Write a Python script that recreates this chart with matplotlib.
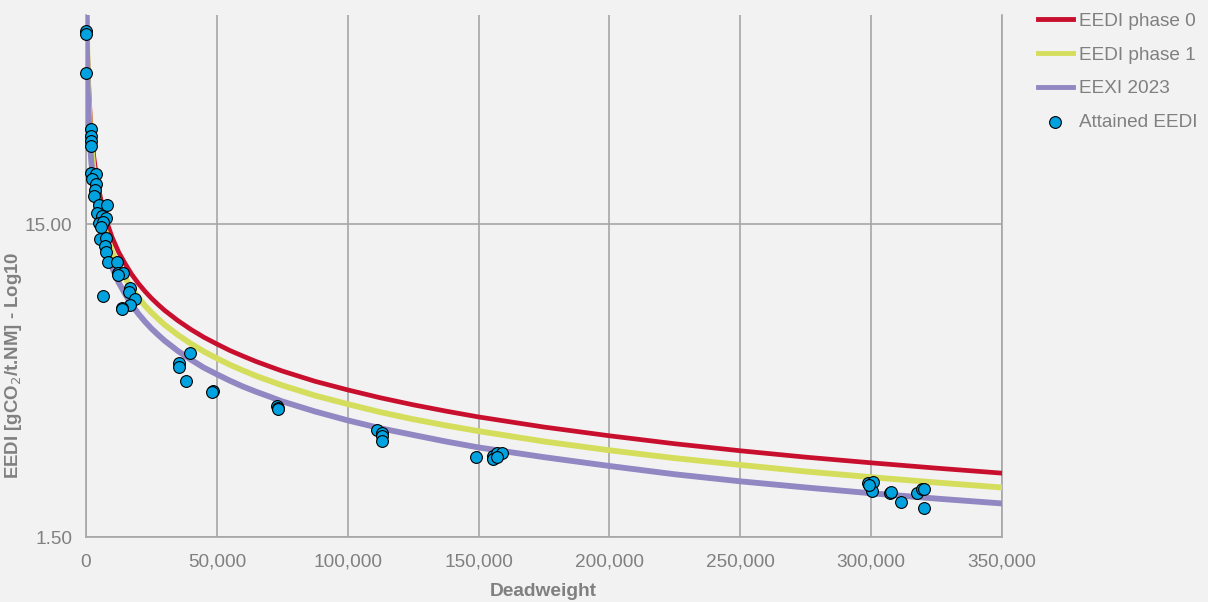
import numpy as np
import matplotlib
matplotlib.use("Agg")
import matplotlib.pyplot as plt
from matplotlib.ticker import FixedLocator, FuncFormatter, NullLocator

# Reference lines (DWT vs EEDI)
line_dwt = [200, 300, 400, 500, 700, 1000, 1500, 2000, 3000, 4000,
            5000, 6000, 8000, 10000, 12500, 15000, 17500, 20000, 22500, 25000,
            27500, 30000, 35000, 40000, 45000, 50000, 55000, 60000, 65000, 70000,
            75000, 87500, 100000, 112500, 125000, 137500, 150000, 175000, 200000, 225000,
            250000, 275000, 300000, 325000, 350000]
phase0 = [91.8, 75.4, 65.5, 58.7, 49.8, 41.9, 34.4, 29.9, 24.5, 21.3,
          19.1, 17.5, 15.2, 13.6, 12.2, 11.2, 10.36, 9.70, 9.16, 8.70,
          8.31, 7.96, 7.39, 6.92, 6.53, 6.21, 5.92, 5.68, 5.46, 5.27,
          5.09, 4.72, 4.43, 4.18, 3.97, 3.79, 3.63, 3.37, 3.16, 2.98,
          2.83, 2.70, 2.59, 2.49, 2.40]
phase1 = [82.6, 67.9, 59.0, 52.8, 44.8, 37.7, 31.0, 26.9, 22.1, 19.2,
          17.2, 15.8, 13.7, 12.2, 11.0, 10.1, 9.32, 8.73, 8.24, 7.83,
          7.48, 7.16, 6.65, 6.23, 5.88, 5.59, 5.33, 5.11, 4.91, 4.74,
          4.58, 4.25, 3.99, 3.76, 3.57, 3.41, 3.27, 3.03, 2.84, 2.68,
          2.55, 2.43, 2.33, 2.24, 2.16]
eexi_2023 = [73.5, 60.3, 52.4, 47.0, 39.8, 33.5, 27.5, 23.9, 19.6, 17.0,
             15.3, 14.0, 12.2, 10.9, 9.76, 8.96, 8.29, 7.76, 7.33, 6.96,
             6.65, 6.37, 5.91, 5.54, 5.22, 4.97, 4.74, 4.54, 4.37, 4.22,
             4.07, 3.78, 3.54, 3.34, 3.18, 3.03, 2.90, 2.70, 2.53, 2.38,
             2.26, 2.16, 2.07, 1.99, 1.92]

# Attained EEDI of individual ships
ship_dwt = [0, 0, 0, 1910, 1910, 1910, 1910, 1910, 3820, 2290,
            3820, 3440, 3060, 4970, 8020, 4200, 6110, 7640, 4970, 6500,
            5730, 5350, 7640, 7260, 7640, 8410, 11850, 12230, 14140, 12230,
            16810, 16430, 6500, 18720, 16810, 13760, 13760, 39740, 35540, 35540,
            38210, 48530, 48150, 72980, 73360, 73360, 111190, 113100, 113100, 113100,
            149020, 155520, 157050, 158950, 155520, 157050, 298800, 300720, 300330, 299190,
            307200, 307600, 311400, 317500, 319400, 320200, 320200]
ship_eedi = [62.1, 60.7, 45.6, 30.2, 28.7, 27.6, 26.6, 21.8, 21.7, 20.9,
             20.1, 19.3, 18.4, 17.3, 17.3, 16.3, 15.9, 15.7, 15.1, 15.2,
             14.7, 13.5, 13.6, 12.8, 12.2, 11.4, 11.4, 10.5, 10.5, 10.3,
             9.37, 9.09, 8.83, 8.64, 8.27, 8.09, 8.03, 5.81, 5.39, 5.24,
             4.73, 4.39, 4.36, 3.93, 3.88, 3.85, 3.30, 3.22, 3.15, 3.04,
             2.70, 2.72, 2.78, 2.78, 2.66, 2.70, 2.23, 2.25, 2.10, 2.20,
             2.07, 2.09, 1.94, 2.07, 2.13, 2.13, 1.86]

x_ticks = [0, 50000, 100000, 150000, 200000, 250000, 300000, 350000]
y_ticks = [1.5, 15.0]

BG = "#f2f2f2"
GRID = "#a6a6a6"
TXT = "#808080"

plt.rcParams["font.family"] = ["Liberation Sans", "DejaVu Sans"]

fig = plt.figure(figsize=(12.08, 6.02), dpi=100, facecolor=BG)
ax = fig.add_axes([86 / 1208, 1 - 537 / 602, 916 / 1208, 522 / 602])
ax.set_facecolor(BG)

ax.plot(line_dwt, phase0, color="#c8102e", lw=3.4, label="EEDI phase 0", zorder=3)
ax.plot(line_dwt, phase1, color="#d5de5c", lw=4.2, label="EEDI phase 1", zorder=3)
ax.plot(line_dwt, eexi_2023, color="#9187c2", lw=4.2, label="EEXI 2023", zorder=3)
ax.scatter(ship_dwt, ship_eedi, s=72, color="#00a3e0", edgecolor="black",
           linewidth=0.8, label="Attained EEDI", zorder=4, clip_on=False)

ax.set_yscale("log")
ax.set_xlim(0, 350000)
ax.set_ylim(1.5, 70)

ax.xaxis.set_major_locator(FixedLocator(x_ticks))
ax.xaxis.set_major_formatter(FuncFormatter(lambda v, p: f"{v:,.0f}"))
ax.yaxis.set_major_locator(FixedLocator(y_ticks))
ax.yaxis.set_minor_locator(NullLocator())
ax.yaxis.set_major_formatter(FuncFormatter(lambda v, p: f"{v:.2f}"))

ax.grid(True, color=GRID, lw=1.2, zorder=0)
ax.set_axisbelow(True)
ax.tick_params(axis="both", length=0, labelsize=13.7, labelcolor=TXT)
ax.tick_params(axis="x", pad=12)
ax.tick_params(axis="y", pad=10)

for side in ["left", "bottom", "right"]:
    ax.spines[side].set_color(GRID)
    ax.spines[side].set_linewidth(1.2)
ax.spines["top"].set_visible(False)

# axis titles placed in figure pixels, as in the reference
fig.text(543 / 1208, 1 - 591 / 602, "Deadweight", fontsize=13.8,
         fontweight="bold", color=TXT, ha="center", va="center")
fig.text(14 / 1208, 1 - 365 / 602, "EEDI [gCO$_2$/t.NM] - Log10", fontsize=13.4,
         fontweight="bold", color=TXT, ha="center", va="center", rotation=90)

leg = fig.legend(loc="upper left", bbox_to_anchor=(1030 / 1208, 1 - 5 / 602),
                 frameon=False, fontsize=13.7, handlelength=1.85, handletextpad=0.35,
                 labelspacing=0.86, borderaxespad=0)
for t in leg.get_texts():
    t.set_color(TXT)
for h in leg.legend_handles[:3]:
    h.set_linewidth(3.5)

fig.savefig("out.png", dpi=100, facecolor=BG)
